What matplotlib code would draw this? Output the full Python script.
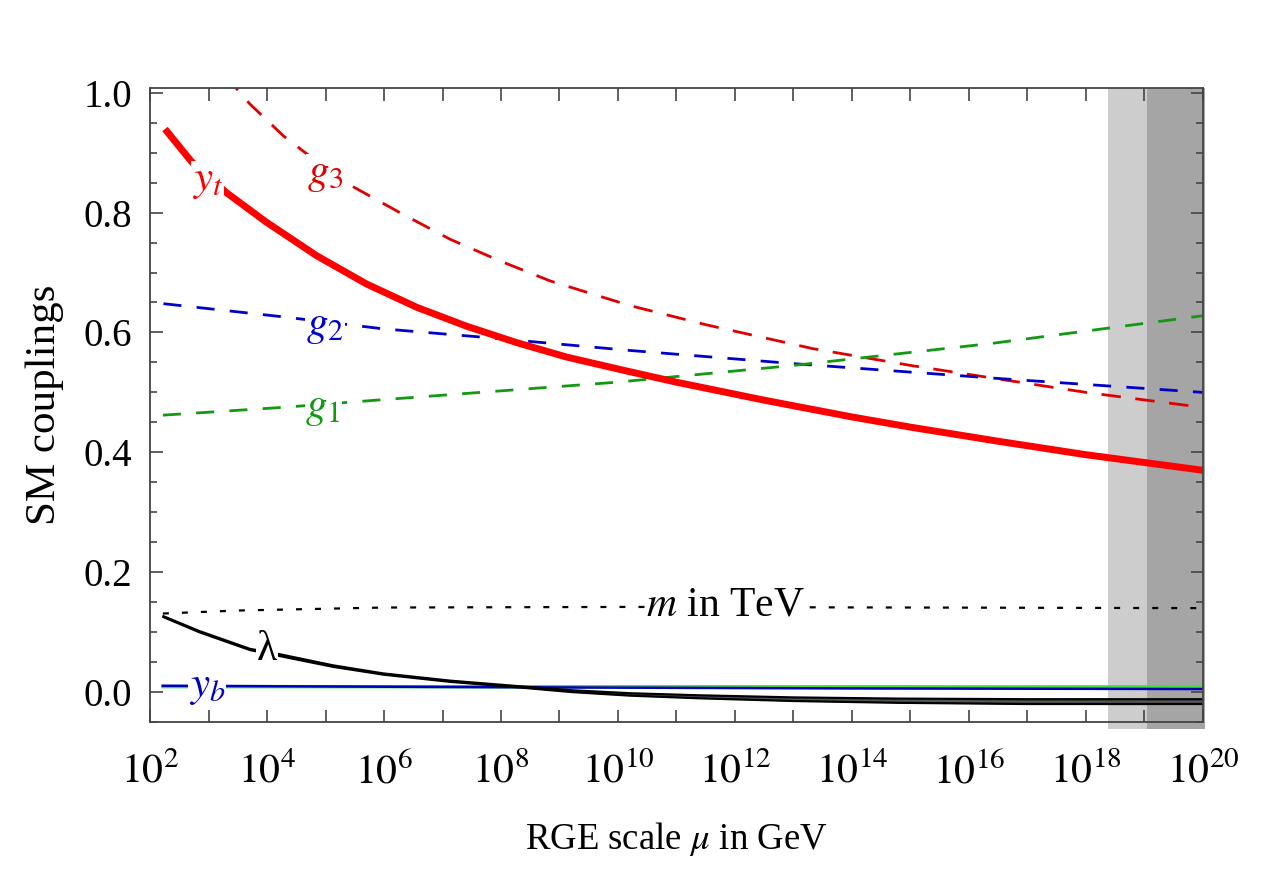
import matplotlib
matplotlib.use("Agg")
import matplotlib.pyplot as plt
import numpy as np

plt.rcParams['font.family'] = ['Liberation Serif', 'DejaVu Serif']
plt.rcParams['mathtext.fontset'] = 'stix'
plt.rcParams['lines.scale_dashes'] = False

# log10(mu / GeV) and coupling values
yt_x = [2.256, 2.71, 3.31, 3.99, 4.85, 5.70, 6.56, 7.41, 8.27, 9.12, 10.09,
        11.0, 12.5, 14.0, 15.0, 16.53, 18.0, 19.0, 20.0]
yt_y = [0.9395, 0.885, 0.833, 0.784, 0.728, 0.681, 0.642, 0.6105, 0.583, 0.559, 0.537,
        0.517, 0.487, 0.459, 0.442, 0.418, 0.396, 0.383, 0.37]

g3_x = [3.3, 3.51, 3.71, 4.28, 4.68, 5.42, 6.27, 7.13, 7.98, 8.84, 10.2,
        11.5, 13.33, 15.0, 16.53, 18.0, 19.75]
g3_y = [1.03, 1.003, 0.981, 0.928, 0.898, 0.846, 0.80, 0.7555, 0.7195, 0.686, 0.645,
        0.613, 0.573, 0.545, 0.522, 0.50, 0.478]

g2_x = [2.23, 4.28, 5.99, 7.70, 10.2, 13.0, 16.53, 20.0]
g2_y = [0.648, 0.626, 0.606, 0.592, 0.570, 0.548, 0.523, 0.50]

g1_x = [2.22, 4.27, 6.0, 9.98, 13.0, 16.41, 20.0]
g1_y = [0.462, 0.475, 0.488, 0.517, 0.545, 0.582, 0.628]

lam_x = [2.23, 2.85, 3.71, 4.22, 5.13, 5.99, 7.13, 8.27, 9.2, 10.2, 11.4, 13.0, 14.8, 17.0, 20.0]
lam_hi = [0.1265, 0.1015, 0.072, 0.063, 0.0445, 0.031, 0.019, 0.010, 0.003, -0.002, -0.0055, -0.009, -0.011, -0.012, -0.012]
lam_lo = [0.1250, 0.0995, 0.070, 0.060, 0.0420, 0.029, 0.017, 0.008, 0.000, -0.006, -0.0105, -0.015, -0.018, -0.020, -0.020]

yb_x = [2.22, 8.0, 14.0, 20.0]
yb_y = [0.0105, 0.008, 0.006, 0.005]

gr_x = [2.22, 20.0]
gr_y = [0.009, 0.0085]

m_x = [2.22, 3.5, 5.0, 6.0, 10.2, 15.0, 20.0]
m_y = [0.131, 0.136, 0.139, 0.141, 0.142, 0.141, 0.140]

# Planck-scale bands (log10 GeV)
band_light = (18.38, 20.0)
band_dark = (19.04, 20.0)

fig = plt.figure(figsize=(12.81, 8.93), dpi=100)
ax = fig.add_axes([0.1171, 0.1915, 0.8220, 0.7100])
ax.set_xscale('log')

def X(v):
    return 10.0 ** np.asarray(v, dtype=float)

ax.axvspan(X(band_light[0]), X(band_light[1] + 0.03), ymin=-0.011, ymax=1,
           color='#cdcdcd', lw=0, zorder=0, clip_on=False)
ax.axvspan(X(band_dark[0]), X(band_dark[1] + 0.03), ymin=-0.011, ymax=1,
           color='#a5a5a5', lw=0, zorder=0, clip_on=False)

ax.plot(X(g3_x), g3_y, color='#e00000', lw=2.0, dashes=(14, 10.5), zorder=2)
ax.plot(X(g2_x), g2_y, color='#0000cc', lw=2.0, dashes=(13, 11), zorder=2)
ax.plot(X(g1_x), g1_y, color='#119911', lw=2.0, dashes=(13, 11), zorder=2)
ax.plot(X(yt_x), yt_y, color='#ff0000', lw=5.0, zorder=3, solid_capstyle='butt')
ax.plot(X(m_x), m_y, color='black', lw=1.6, dashes=(4.3, 9.4), zorder=2)
ax.plot(X(gr_x), gr_y, color='#44dd44', lw=2.5, zorder=2)
ax.plot(X(yb_x), yb_y, color='#0000bb', lw=1.8, zorder=2)
ax.fill_between(X(lam_x), lam_lo, lam_hi, color='#555555', lw=0, zorder=2)
ax.plot(X(lam_x), lam_hi, color='black', lw=1.6, zorder=2)
ax.plot(X(lam_x), lam_lo, color='black', lw=1.6, zorder=2)

box = dict(facecolor='white', edgecolor='none', pad=0.5)
lab_fs = 31
ax.text(X(2.98), 0.852, r'$y_t$', color='#ff0000', fontsize=lab_fs, ha='center', va='center', bbox=box, zorder=5)
ax.text(X(4.99), 0.864, r'$g_3$', color='#e00000', fontsize=lab_fs, ha='center', va='center', bbox=box, zorder=5)
ax.text(X(4.99), 0.610, r'$g_2$', color='#0000cc', fontsize=lab_fs, ha='center', va='center', bbox=box, zorder=5)
ax.text(X(4.96), 0.472, r'$g_1$', color='#119911', fontsize=lab_fs, ha='center', va='center', bbox=box, zorder=5)
ax.text(X(4.0), 0.071, 'λ', color='black', fontsize=30, ha='center', va='center', bbox=box, zorder=5)
ax.text(X(2.98), 0.007, r'$y_b$', color='#0000bb', fontsize=lab_fs, ha='center', va='center', bbox=box, zorder=5)
ax.text(X(11.83), 0.144, r'$m$ in TeV', color='black', fontsize=30, ha='center', va='center', bbox=box, zorder=5)

ax.set_xlim(1e2, 1e20)
ax.set_ylim(-0.05, 1.008)

ax.set_xticks(X(np.arange(2, 21, 2)))
ax.set_xticklabels([r'$10^{%d}$' % k for k in range(2, 21, 2)])
ax.set_xticks(X(np.arange(3, 20, 2)), minor=True)
ax.xaxis.set_minor_formatter(plt.NullFormatter())
ax.set_yticks([0.0, 0.2, 0.4, 0.6, 0.8, 1.0])
ax.set_yticklabels(['0.0', '0.2', '0.4', '0.6', '0.8', '1.0'])
ax.set_yticks(np.arange(-0.05, 1.0, 0.05), minor=True)

ax.tick_params(which='both', direction='in', top=True, right=True,
               color='#444444', width=1.2)
ax.tick_params(axis='y', which='major', length=9, pad=13, labelsize=28)
ax.tick_params(axis='y', which='minor', length=5)
ax.tick_params(axis='x', which='both', length=9, pad=22, labelsize=30)

for s in ax.spines.values():
    s.set_color('#444444')
    s.set_linewidth(1.3)
    s.set_zorder(6)

ax.set_xlabel(r'RGE scale $\mu$ in GeV', fontsize=26.5, labelpad=20)
ax.set_ylabel('SM couplings', fontsize=31, labelpad=14)

fig.savefig('out.png', dpi=100)
